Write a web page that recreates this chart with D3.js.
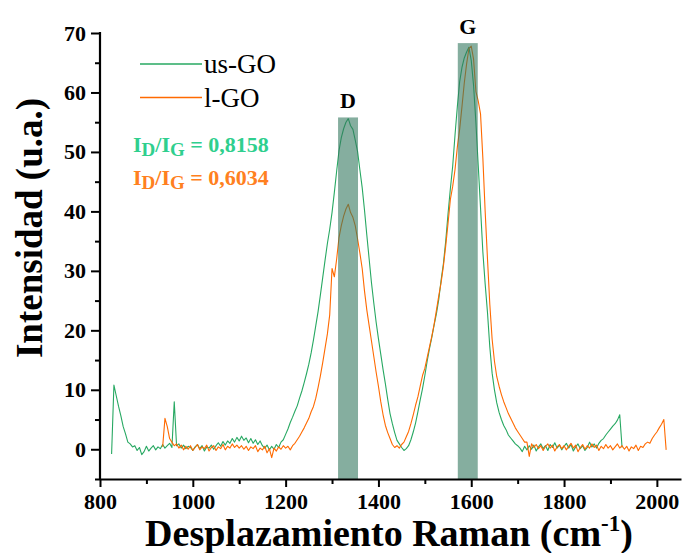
<!DOCTYPE html>
<html>
<head>
<meta charset="utf-8">
<script src="https://cdn.jsdelivr.net/npm/d3@7"></script>
<style>
  html, body { margin: 0; padding: 0; background: #fff; }
  svg { display: block; font-family: "Liberation Serif", "Times New Roman", serif; }
</style>
</head>
<body>
<svg id="chart" width="684" height="553"></svg>
<script>
// Raman spectra sampled every 5 cm-1
const shiftStep = 5;

const usGOStart = 825;
const usGOIntensity = [
  -0.8, 10.8, 9.0, 7.2, 5.6, 3.8, 2.6, 1.2, 0.9, 0.4,
  0.6, -0.2, 0.3, -0.9, -0.4, 0.5, -0.3, 0.2, 0.6, -0.1,
  0.4, 0.1, 0.8, 0.2, 0.6, 1.0, 0.3, 8.0, 0.6, 0.9,
  0.2, 0.7, 0.1, 0.5, 0.3, -0.2, 0.4, 0.8, 0.1, 0.6,
  -0.3, 0.4, 0.2, 0.7, 0.0, 0.6, 1.1, 0.5, 1.3, 0.7,
  1.4, 1.0, 1.8, 1.2, 2.0, 1.4, 2.2, 1.5, 1.9, 1.1,
  1.8, 1.0, 1.6, 0.8, 1.4, 0.6, 0.2, 0.7, -0.1, 0.5,
  0.0, 0.8, 0.3, 1.2, 1.6, 2.5, 3.4, 4.5, 5.4, 6.4,
  7.3, 8.6, 9.8, 11.2, 12.7, 14.3, 16.2, 18.4, 20.8, 23.2,
  26.0, 28.9, 31.8, 34.6, 37.0, 39.8, 43.2, 46.8, 50.2, 52.4,
  53.9, 55.0, 55.6, 54.4, 53.8, 52.0, 50.1, 47.0, 44.0, 40.2,
  36.0, 32.0, 28.0, 24.6, 21.4, 18.6, 16.0, 13.4, 11.0, 8.4,
  6.0, 4.3, 2.8, 1.5, 0.9, 0.3, -0.2, 0.1, 0.6, 1.6,
  2.9, 4.4, 6.3, 8.3, 10.2, 12.4, 14.8, 16.9, 18.8, 20.9,
  22.8, 25.2, 28.4, 31.2, 35.0, 39.6, 43.8, 47.6, 52.8, 57.6,
  61.8, 64.2, 65.8, 66.8, 67.6, 65.4, 61.2, 55.0, 47.8, 40.6,
  33.2, 27.8, 23.0, 17.2, 12.8, 10.0, 7.8, 6.2, 5.0, 4.0,
  3.3, 2.4, 1.9, 1.4, 0.9, 0.6, 0.2, -0.4, 0.5, -0.1,
  0.6, 0.0, 0.7, -0.3, 0.4, 0.9, 0.1, 0.6, -0.2, 0.8,
  0.3, 1.1, 0.2, 0.7, -0.1, 0.5, 1.0, 0.2, 0.8, -0.3,
  0.4, 0.9, 0.1, 0.6, -0.2, 0.3, 1.2, 0.4, 0.9, 0.2,
  1.0, 1.5, 1.8, 2.4, 2.9, 3.4, 3.9, 4.3, 4.9, 5.8,
  0.3
];

const lGOStart = 935;
const lGOIntensity = [
  0.4, 5.2, 3.8, 1.8, 1.2, 0.6, 0.9, 0.2, 0.7, -0.1,
  0.5, 0.0, 0.6, -0.2, 0.3, 0.8, -0.1, 0.4, 0.1, 0.7,
  -0.3, 0.3, 0.6, -0.2, 0.4, 0.1, 0.8, -0.1, 0.5, 0.2,
  0.9, 0.3, 0.7, 0.2, 0.6, 0.0, 0.5, -0.2, 0.4, 0.1,
  0.6, -0.4, 0.2, -0.1, 0.5, -0.6, 0.1, -1.4, 0.2, -0.3,
  0.4, 0.0, 0.6, 0.2, 0.5, -0.1, 0.6, 1.0, 1.6, 2.2,
  2.9, 3.6, 4.4, 5.2, 6.3, 7.2, 8.6, 10.4, 12.4, 14.6,
  17.0, 19.4, 22.6, 30.4, 29.0, 32.0, 35.6, 37.6, 39.2, 40.4,
  41.2, 39.8, 39.0, 37.6, 35.4, 33.0, 30.4, 26.6, 23.4, 20.8,
  18.2, 15.6, 13.0, 10.6, 8.0, 5.8, 4.0, 2.8, 1.8, 0.8,
  0.3, 0.6, 0.2, 0.8, 1.2, 2.1, 3.0, 4.3, 5.8, 7.4,
  8.8, 10.6, 12.4, 13.6, 15.4, 17.2, 19.0, 21.0, 23.4, 25.8,
  28.0, 30.8, 34.2, 38.0, 42.0, 44.2, 47.0, 50.8, 53.8, 57.6,
  61.6, 64.8, 67.4, 67.8, 65.6, 60.2, 58.6, 56.4, 49.0, 40.0,
  32.0, 24.4, 18.5, 14.8, 12.2, 10.6, 9.2, 8.0, 7.0, 6.0,
  5.2, 4.4, 3.6, 3.0, 2.4, 1.8, 1.2, 1.2, -1.2, 0.9,
  0.3, 0.8, 0.1, 0.6, -0.2, 0.5, 0.9, 0.2, 0.7, -0.3,
  0.4, 0.8, 0.1, 0.6, -0.1, 0.5, 1.0, 0.2, 0.7, -0.4,
  0.3, 0.8, 0.0, 0.6, 0.2, 0.9, 0.3, 0.7, -0.2, 0.5,
  0.1, 0.8, 0.2, 0.6, -0.1, 0.4, 0.9, 0.2, 0.6, 0.0,
  0.5, -0.3, 0.4, 0.1, 0.7, -0.2, 0.5, 0.3, 0.9, 1.2,
  1.0, 1.8, 2.4, 2.9, 3.6, 4.2, 5.0, -0.1
];

// Highlighted bands (D and G)
const bandLabels = ["D", "G"];
const bandCenters = [1334.5, 1592.5];
const bandHalfWidth = 21.5;
const bandTops = [55.8, 68.3];

// Series names, colours and I_D/I_G ratios
const seriesNames = ["us-GO", "l-GO"];
const seriesColors = ["#27a862", "#ff6a00"];
const ratioValues = ["0,8158", "0,6034"];
const ratioColors = ["#2fcf8e", "#ff8020"];

// Axes
const xTicks = [800, 1000, 1200, 1400, 1600, 1800, 2000];
const yTicks = [0, 10, 20, 30, 40, 50, 60, 70];

const svg = d3.select("#chart");

const x = d3.scaleLinear().domain([800, 2052]).range([100, 681]);
const y = d3.scaleLinear().domain([-5, 70]).range([479, 33]);

const toPoints = (start, vals) => vals.map((v, i) => [start + i * shiftStep, v]);
const series = [
  toPoints(usGOStart, usGOIntensity),
  toPoints(lGOStart, lGOIntensity)
];

const line = d3.line().x(d => x(d[0])).y(d => y(d[1]));

// Spectra
svg.append("g")
  .selectAll("path")
  .data(series)
  .join("path")
  .attr("d", line)
  .attr("fill", "none")
  .attr("stroke", (d, i) => seriesColors[i])
  .attr("stroke-width", 1.1)
  .attr("stroke-linejoin", "round");

// Band rectangles
svg.append("g")
  .selectAll("rect")
  .data(bandLabels)
  .join("rect")
  .attr("x", (d, i) => x(bandCenters[i] - bandHalfWidth))
  .attr("width", (d, i) => x(bandCenters[i] + bandHalfWidth) - x(bandCenters[i] - bandHalfWidth))
  .attr("y", (d, i) => y(bandTops[i]))
  .attr("height", (d, i) => y(-5) - y(bandTops[i]))
  .attr("fill", "rgb(52,120,95)")
  .attr("fill-opacity", 0.6);

svg.append("g")
  .selectAll("text")
  .data(bandLabels)
  .join("text")
  .attr("x", (d, i) => x(bandCenters[i]))
  .attr("y", (d, i) => y(bandTops[i]) - 9)
  .attr("text-anchor", "middle")
  .attr("font-size", 22)
  .attr("font-weight", "bold")
  .text(d => d);

// X axis
const xMinor = d3.range(800, 2051, 100).filter(v => !xTicks.includes(v));
const gx = svg.append("g").attr("transform", `translate(0,${y(-5)})`);
gx.call(d3.axisBottom(x).tickValues(xMinor).tickSize(5).tickFormat(""));
gx.call(g => g.select(".domain").remove());
const gx2 = svg.append("g").attr("transform", `translate(0,${y(-5)})`)
  .call(d3.axisBottom(x).tickValues(xTicks).tickSize(8).tickSizeOuter(0).tickPadding(6).tickFormat(d3.format("d")));
gx2.selectAll("text").attr("font-size", 22).attr("font-weight", "bold").attr("fill", "#000")
  .attr("font-family", "Liberation Serif, Times New Roman, serif");
gx2.select(".domain").attr("stroke-width", 2.2);

// Y axis
const yMinor = d3.range(-5, 70, 10);
const gy = svg.append("g").attr("transform", `translate(${x(800)},0)`);
gy.call(d3.axisLeft(y).tickValues(yMinor).tickSize(5).tickFormat(""));
gy.call(g => g.select(".domain").remove());
const gy2 = svg.append("g").attr("transform", `translate(${x(800)},0)`)
  .call(d3.axisLeft(y).tickValues(yTicks).tickSize(9).tickSizeOuter(0).tickPadding(5));
gy2.selectAll("text").attr("font-size", 22).attr("font-weight", "bold").attr("fill", "#000")
  .attr("font-family", "Liberation Serif, Times New Roman, serif");
gy2.select(".domain").attr("stroke-width", 2.2).attr("d", `M0,${y(-5)}V${y(70) - 1}`);
svg.selectAll(".tick line").attr("stroke", "#000").attr("stroke-width", 2);

// Axis titles
const xTitle = svg.append("text")
  .attr("x", 389).attr("y", 546)
  .attr("text-anchor", "middle")
  .attr("font-size", 38).attr("font-weight", "bold");
xTitle.append("tspan").text("Desplazamiento Raman (cm");
xTitle.append("tspan").attr("dy", -15).attr("font-size", 23).text("-1");
xTitle.append("tspan").attr("dy", 15).text(")");

svg.append("text")
  .attr("transform", "translate(42,228) rotate(-90)")
  .attr("text-anchor", "middle")
  .attr("font-size", 37).attr("font-weight", "bold")
  .text("Intensidad (u.a.)");

// Legend
const legend = svg.append("g");
seriesNames.forEach((name, i) => {
  const ly = 64 + i * 33.5;
  legend.append("line")
    .attr("x1", 140).attr("x2", 202)
    .attr("y1", ly).attr("y2", ly)
    .attr("stroke", seriesColors[i]).attr("stroke-width", 1.3);
  legend.append("text")
    .attr("x", 204).attr("y", ly + 9)
    .attr("font-size", 27)
    .text(name);
});

// I_D / I_G ratios
ratioValues.forEach((val, i) => {
  const t = svg.append("text")
    .attr("x", 133).attr("y", 152 + i * 33)
    .attr("font-size", 22).attr("font-weight", "bold")
    .attr("fill", ratioColors[i]);
  t.append("tspan").text("I");
  t.append("tspan").attr("dy", 4).attr("font-size", 19).text("D");
  t.append("tspan").attr("dy", -4).text("/I");
  t.append("tspan").attr("dy", 4).attr("font-size", 19).text("G");
  t.append("tspan").attr("dy", -4).text(" = " + val);
});
</script>
</body>
</html>
